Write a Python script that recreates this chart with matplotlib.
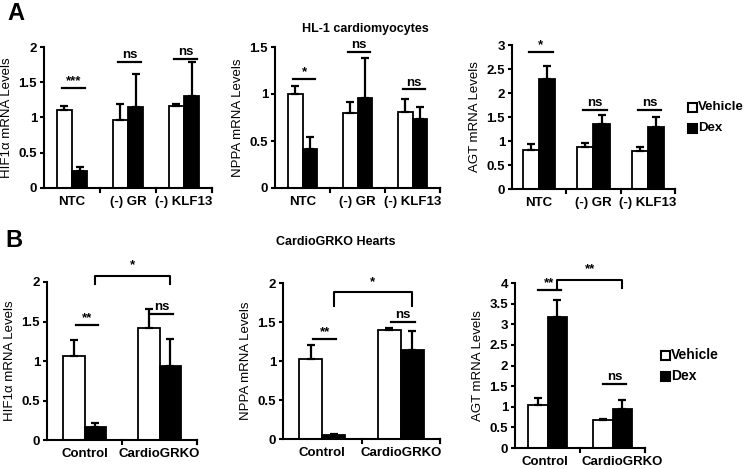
import numpy as np
import matplotlib
matplotlib.use("Agg")
import matplotlib.pyplot as plt
import matplotlib.transforms as mtrans

plt.rcParams['font.family'] = ['Liberation Sans', 'DejaVu Sans']

W, H = 745, 469

# ---- data ----
cats_a = ['NTC', '(-) GR', '(-) KLF13']
cats_b = ['Control', 'CardioGRKO']

hif_a_veh = [1.11, 0.97, 1.16]
hif_a_veh_err = [0.05, 0.22, 0.03]
hif_a_dex = [0.24, 1.15, 1.31]
hif_a_dex_err = [0.06, 0.47, 0.48]

nppa_a_veh = [1.00, 0.80, 0.81]
nppa_a_veh_err = [0.08, 0.12, 0.14]
nppa_a_dex = [0.41, 0.96, 0.73]
nppa_a_dex_err = [0.13, 0.42, 0.13]

agt_a_veh = [0.82, 0.88, 0.79]
agt_a_veh_err = [0.12, 0.08, 0.09]
agt_a_dex = [2.30, 1.35, 1.29]
agt_a_dex_err = [0.27, 0.19, 0.22]

hif_b_veh = [1.06, 1.42]
hif_b_veh_err = [0.21, 0.24]
hif_b_dex = [0.17, 0.94]
hif_b_dex_err = [0.05, 0.34]

nppa_b_veh = [1.03, 1.40]
nppa_b_veh_err = [0.17, 0.02]
nppa_b_dex = [0.05, 1.14]
nppa_b_dex_err = [0.02, 0.24]

agt_b_veh = [1.04, 0.68]
agt_b_veh_err = [0.17, 0.02]
agt_b_dex = [3.17, 0.94]
agt_b_dex_err = [0.43, 0.23]

# significance: (category, label, y level)
sig_hif_a = [(0, '***', 1.42), (1, 'ns', 1.79), (2, 'ns', 1.83)]
sig_nppa_a = [(0, '*', 1.16), (1, 'ns', 1.45), (2, 'ns', 1.05)]
sig_agt_a = [(0, '*', 2.85), (1, 'ns', 1.65), (2, 'ns', 1.65)]
sig_hif_b = [(0, '**', 1.45), (1, 'ns', 1.6)]
sig_nppa_b = [(0, '**', 1.28), (1, 'ns', 1.5)]
sig_agt_b = [(0, '**', 3.82), (1, 'ns', 1.55)]
# bracket between the two Dex bars: (label, y top, y bottom)
brk_hif_b = ('*', 2.08, 1.97)
brk_nppa_b = ('*', 1.88, 1.71)
brk_agt_b = ('**', 4.08, 3.87)

FS = 9.5


def px_axes(fig, l, r, t, b):
    return fig.add_axes([l / W, 1 - b / H, (r - l) / W, (b - t) / H])


def panel(ax, cats, veh, veh_err, dex, dex_err, ymax, ystep, ylabel, bw, sigs, sig_hw):
    x = np.arange(len(cats))
    ax.bar(x - bw / 2, veh, bw, color='white', edgecolor='black', linewidth=1.3,
           yerr=[np.zeros(len(veh)), veh_err], capsize=3,
           error_kw=dict(elinewidth=1.6, capthick=1.6, ecolor='black'), zorder=2)
    ax.bar(x + bw / 2, dex, bw, color='black', edgecolor='black', linewidth=1.3,
           yerr=[np.zeros(len(dex)), dex_err], capsize=3,
           error_kw=dict(elinewidth=1.6, capthick=1.6, ecolor='black'), zorder=2)
    ax.set_xlim(-0.5, len(cats) - 0.5)
    ax.set_ylim(0, ymax)
    yt = np.arange(0, ymax + 1e-9, ystep)
    ax.set_yticks(yt)
    ax.set_yticklabels(['%g' % v for v in yt], fontweight='bold', fontsize=FS)
    ax.set_xticks(x)
    ax.set_xticklabels(cats, fontweight='bold', fontsize=FS)
    ax.tick_params(axis='x', length=0, pad=6)
    ax.tick_params(axis='y', length=3, width=1.5, pad=2)
    for bnd in np.arange(0.5, len(cats), 1.0):
        ax.plot([bnd, bnd], [0, -0.025 * ymax], color='black', lw=1.5, clip_on=False)
    ax.plot([len(cats) - 0.5] * 2, [0, -0.025 * ymax], color='black', lw=1.5, clip_on=False)
    for s in ['top', 'right']:
        ax.spines[s].set_visible(False)
    for s in ['left', 'bottom']:
        ax.spines[s].set_linewidth(1.5)
    ax.set_ylabel(ylabel, fontsize=FS, labelpad=4)
    for c, lab, yv in sigs:
        ax.plot([c - sig_hw + 0.03, c + sig_hw + 0.03], [yv, yv], color='black', lw=1.6, clip_on=False)
        ax.text(c + 0.03, yv + 0.005 * ymax, lab, ha='center', va='bottom',
                fontsize=FS, fontweight='bold', clip_on=False)


def bracket(ax, bw, brk):
    lab, ytop, ybot = brk
    x0, x1 = 0 + bw / 2, 1 + bw / 2
    ax.plot([x0, x0, x1, x1], [ybot, ytop, ytop, ybot], color='black', lw=1.5, clip_on=False)
    ax.text((x0 + x1) / 2, ytop + 0.03 * ax.get_ylim()[1], lab, ha='center', va='bottom',
            fontsize=FS, fontweight='bold', clip_on=False)


def legend(fig, x, y, fs):
    for i, (lab, col) in enumerate([('Vehicle', 'white'), ('Dex', 'black')]):
        yy = y + i * 21
        fig.patches.append(plt.Rectangle((x / W, 1 - (yy + 5) / H), 9 / W, 9 / H,
                                         transform=fig.transFigure, facecolor=col,
                                         edgecolor='black', lw=1.5))
        fig.text((x + 10) / W, 1 - yy / H, lab, fontsize=fs, fontweight='bold', va='center')


fig = plt.figure(figsize=(W / 100, H / 100), dpi=100)

ax1 = px_axes(fig, 44, 212, 47, 188)
panel(ax1, cats_a, hif_a_veh, hif_a_veh_err, hif_a_dex, hif_a_dex_err, 2, 0.5,
      'HIF1\u03b1 mRNA Levels', 0.27, sig_hif_a, 0.2)
ax2 = px_axes(fig, 275, 440, 47, 188)
panel(ax2, cats_a, nppa_a_veh, nppa_a_veh_err, nppa_a_dex, nppa_a_dex_err, 1.5, 0.5,
      'NPPA mRNA Levels', 0.27, sig_nppa_a, 0.2)
ax3 = px_axes(fig, 512, 675, 45, 189)
panel(ax3, cats_a, agt_a_veh, agt_a_veh_err, agt_a_dex, agt_a_dex_err, 3, 0.5,
      'AGT mRNA Levels', 0.3, sig_agt_a, 0.22)

ax4 = px_axes(fig, 47, 197, 282, 440)
panel(ax4, cats_b, hif_b_veh, hif_b_veh_err, hif_b_dex, hif_b_dex_err, 2, 0.5,
      'HIF1\u03b1 mRNA Levels', 0.29, sig_hif_b, 0.15)
bracket(ax4, 0.29, brk_hif_b)
ax5 = px_axes(fig, 283, 440, 283, 439)
panel(ax5, cats_b, nppa_b_veh, nppa_b_veh_err, nppa_b_dex, nppa_b_dex_err, 2, 0.5,
      'NPPA mRNA Levels', 0.29, sig_nppa_b, 0.15)
bracket(ax5, 0.29, brk_nppa_b)
ax6 = px_axes(fig, 515, 645, 283, 448)
panel(ax6, cats_b, agt_b_veh, agt_b_veh_err, agt_b_dex, agt_b_dex_err, 4, 0.5,
      'AGT mRNA Levels', 0.3, sig_agt_b, 0.17)
bracket(ax6, 0.3, brk_agt_b)
# the reference places the CardioGRKO label a little to the right here
lbl = ax6.get_xticklabels()[1]
lbl.set_transform(lbl.get_transform() + mtrans.ScaledTranslation(0.1, 0, fig.dpi_scale_trans))
lbl0 = ax6.get_xticklabels()[0]
lbl0.set_transform(lbl0.get_transform() + mtrans.ScaledTranslation(-0.03, 0, fig.dpi_scale_trans))

legend(fig, 688, 107, 9.5)
legend(fig, 661, 355, 10)

fig.text(7 / W, 1 - 13 / H, 'A', fontsize=17, fontweight='bold', va='center')
fig.text(5 / W, 1 - 240 / H, 'B', fontsize=17, fontweight='bold', va='center')
fig.text(365 / W, 1 - 29 / H, 'HL-1 cardiomyocytes', fontsize=9, fontweight='bold',
         ha='center', va='center')
fig.text(336 / W, 1 - 242 / H, 'CardioGRKO Hearts', fontsize=9, fontweight='bold',
         ha='center', va='center')

fig.savefig('out.png', dpi=100)
